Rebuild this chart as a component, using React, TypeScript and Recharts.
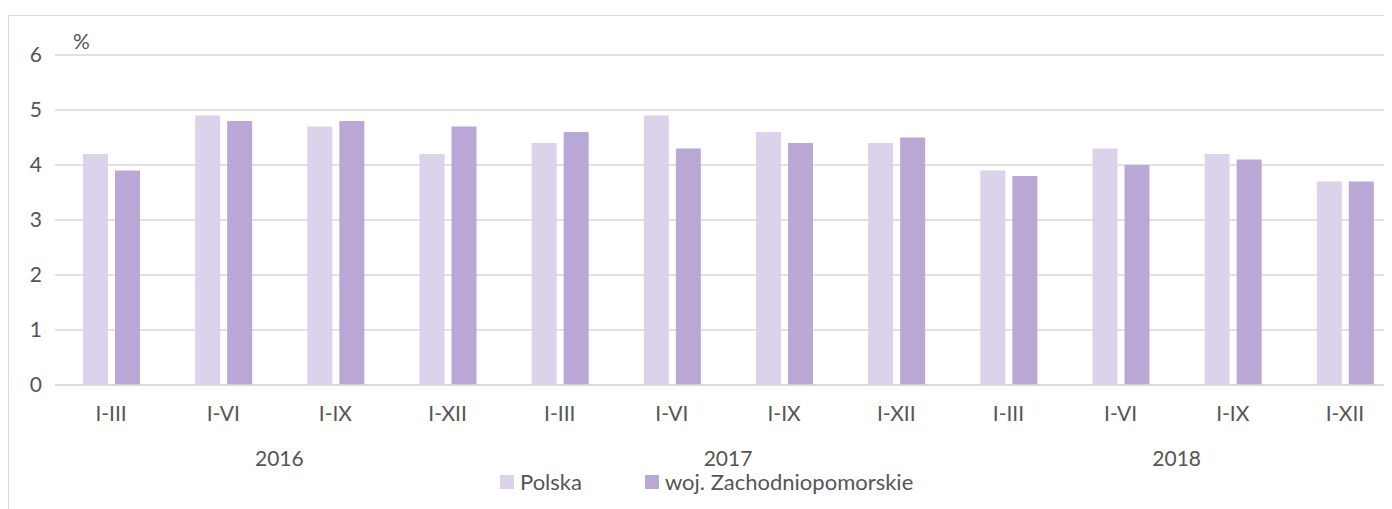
import React from 'react';
import { BarChart, Bar, XAxis, YAxis, CartesianGrid, Legend } from 'recharts';

const periods = ['I-III', 'I-VI', 'I-IX', 'I-XII', 'I-III', 'I-VI', 'I-IX', 'I-XII', 'I-III', 'I-VI', 'I-IX', 'I-XII'];
const years = ['2016', '2016', '2016', '2016', '2017', '2017', '2017', '2017', '2018', '2018', '2018', '2018'];
const polska = [4.2, 4.9, 4.7, 4.2, 4.4, 4.9, 4.6, 4.4, 3.9, 4.3, 4.2, 3.7];
const zachodniopomorskie = [3.9, 4.8, 4.8, 4.7, 4.6, 4.3, 4.4, 4.5, 3.8, 4.0, 4.1, 3.7];
const yTicks = [0, 1, 2, 3, 4, 5, 6];

const data = periods.map((p, i) => ({
  period: p,
  year: years[i],
  polska: polska[i],
  zach: zachodniopomorskie[i],
}));

const FONT = 'Lato, "Open Sans", sans-serif';
const TEXT = '#555555';
const GRID = '#d9d9d9';
const FS = 21;

const LegendContent = (props: any) => {
  const { payload } = props;
  return (
    <div style={{ display: 'flex', alignItems: 'center', fontFamily: FONT, fontSize: 22, color: TEXT, lineHeight: '24px' }}>
      {(payload || []).map((e: any, i: number) => (
        <div key={i} style={{ display: 'flex', alignItems: 'center', marginRight: 63 }}>
          <span style={{ display: 'inline-block', width: 14, height: 14, background: e.color, marginRight: 6 }} />
          <span>{e.value}</span>
        </div>
      ))}
    </div>
  );
};

export default function App() {
  return (
    <div style={{ position: 'relative', width: 1384, height: 501, overflow: 'hidden', background: '#fff' }}>
      <div
        style={{
          position: 'absolute',
          left: 0,
          top: 7,
          width: 1500,
          height: 600,
          border: `1.3px solid ${GRID}`,
          boxSizing: 'border-box',
        }}
      />
      <div style={{ position: 'absolute', left: 0, top: 0 }}>
        <BarChart
          width={1420}
          height={501}
          data={data}
          margin={{ top: 47, right: 27, left: 0, bottom: 34 }}
          barSize={25}
          barGap={7}
        >
          <CartesianGrid vertical={false} stroke={GRID} strokeWidth={1.3} />
          <XAxis
            xAxisId="period"
            dataKey="period"
            height={45}
            axisLine={{ stroke: GRID, strokeWidth: 1.3 }}
            tickLine={false}
            tickSize={0}
            tickMargin={21}
            interval={0}
            tick={{ fill: TEXT, fontSize: FS, fontFamily: FONT }}
          />
          <XAxis
            xAxisId="year"
            dataKey="year"
            allowDuplicatedCategory={false}
            height={45}
            axisLine={false}
            tickLine={false}
            tickSize={0}
            tickMargin={21}
            interval={0}
            tick={{ fill: TEXT, fontSize: FS, fontFamily: FONT }}
          />
          <YAxis
            domain={[0, 6]}
            ticks={yTicks}
            width={47}
            axisLine={false}
            tickLine={false}
            tickSize={0}
            tickMargin={13}
            tick={{ fill: TEXT, fontSize: FS, fontFamily: FONT }}
          />
          <Legend
            layout="horizontal"
            verticalAlign="middle"
            align="center"
            wrapperStyle={{ top: 462, left: 492, width: 600 }}
            content={LegendContent}
          />
          <Bar xAxisId="period" dataKey="polska" name="Polska" fill="#dcd3ea" isAnimationActive={false} />
          <Bar xAxisId="period" dataKey="zach" name="woj. Zachodniopomorskie" fill="#b9a7d5" isAnimationActive={false} />
        </BarChart>
      </div>
      <div
        style={{
          position: 'absolute',
          left: 65,
          top: 21,
          fontFamily: FONT,
          fontSize: FS,
          lineHeight: '24px',
          color: TEXT,
        }}
      >
        %
      </div>
    </div>
  );
}
